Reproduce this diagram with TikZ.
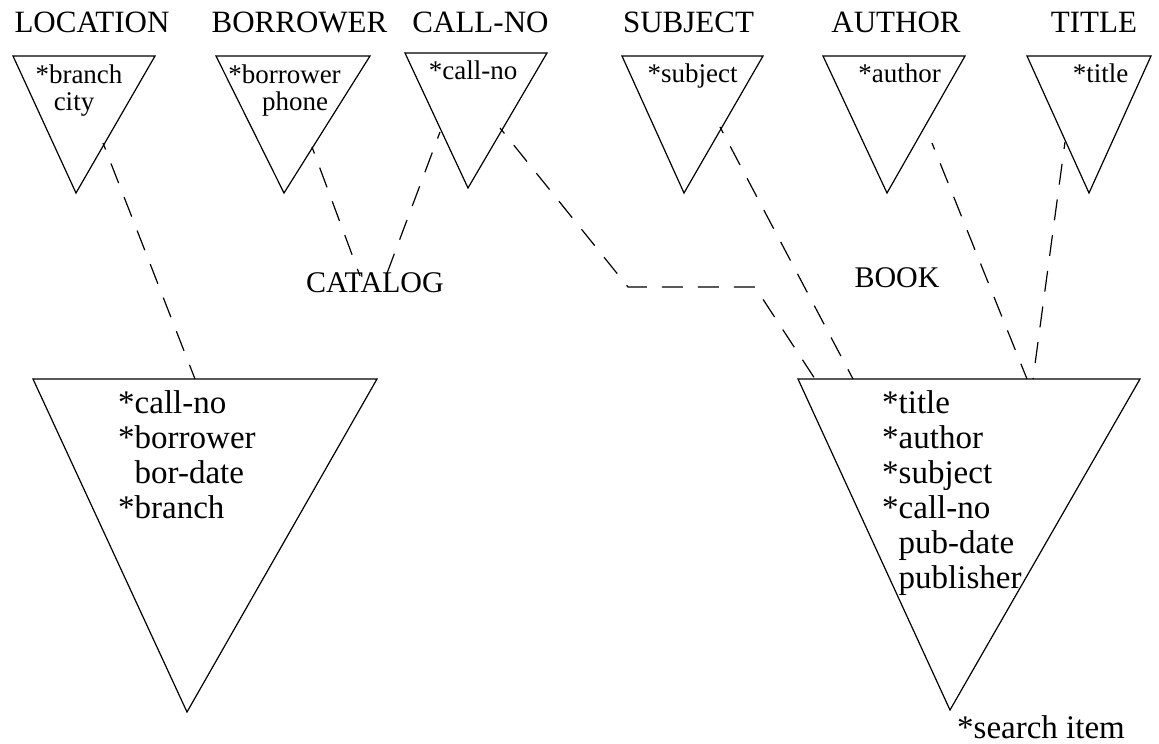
\documentclass[tikz,border=0pt]{standalone}
\usepackage{fontspec}
\setmainfont{Liberation Serif}
\begin{document}
\begin{tikzpicture}[x=1pt,y=-1pt,
  tri/.style={line width=1.2pt, line join=miter},
  link/.style={line width=1.2pt, dash pattern=on 21pt off 15pt, dash phase=14pt},
  relname/.style={font=\fontsize{31}{31}\selectfont, inner sep=0pt, anchor=base},
  idxkey/.style={font=\fontsize{27}{27}\selectfont, inner sep=0pt, anchor=base},
  attrlist/.style={font=\fontsize{33}{35}\selectfont, inner sep=0pt, anchor=base west}]
\useasboundingbox (0,0) rectangle (1159,744);

% ---- index triangles across the top ----
\coordinate (locA) at (13,56);   \coordinate (locB) at (155,56);  \coordinate (locC) at (76,193);
\coordinate (borA) at (216,56);  \coordinate (borB) at (370,56);  \coordinate (borC) at (284,193);
\coordinate (calA) at (405,53);  \coordinate (calB) at (547,53);  \coordinate (calC) at (468,188);
\coordinate (subA) at (622,56);  \coordinate (subB) at (763,56);  \coordinate (subC) at (684,193);
\coordinate (autA) at (823,56);  \coordinate (autB) at (965,56);  \coordinate (autC) at (887,193);
\coordinate (titA) at (1027,56); \coordinate (titB) at (1151,56); \coordinate (titC) at (1089,193);
\foreach \t in {loc,bor,cal,sub,aut,tit}
  \draw[tri] (\t A) -- (\t B) -- (\t C) -- cycle;

% ---- relation files ----
\coordinate (catA) at (33,379);  \coordinate (catB) at (377,379); \coordinate (catC) at (187,712);
\coordinate (bokA) at (798,379); \coordinate (bokB) at (1140,379); \coordinate (bokC) at (950,710);
\draw[tri] (catA) -- (catB) -- (catC) -- cycle;
\draw[tri] (bokA) -- (bokB) -- (bokC) -- cycle;

% ---- names above the index triangles ----
\node[relname] (nLoc) at (92,32)    {LOCATION};
\node[relname] (nBor) at (299.5,32) {BORROWER};
\node[relname] (nCal) at (480.5,32) {CALL-NO};
\node[relname] (nSub) at (688.5,32) {SUBJECT};
\node[relname] (nAut) at (896,32)   {AUTHOR};
\node[relname] (nTit) at (1094,32)  {TITLE};

% ---- keys inside the index triangles ----
\node[idxkey] (kLoc1) at (79,83)    {*branch};
\node[idxkey] (kLoc2) at (74,110)   {city};
\node[idxkey] (kBor1) at (284.5,83) {*borrower};
\node[idxkey] (kBor2) at (295,110)  {phone};
\node[idxkey] (kCal)  at (473,79)   {*call-no};
\node[idxkey] (kSub)  at (692.5,82) {*subject};
\node[idxkey] (kAut)  at (899.5,82) {*author};
\node[idxkey] (kTit)  at (1100.5,82){*title};

% ---- relation labels ----
\node[relname, font=\fontsize{30}{30}\selectfont] (catalog) at (375,292) {CATALOG};
\node[relname, font=\fontsize{30}{30}\selectfont] (book)    at (897,287) {BOOK};

% ---- attribute lists (key fields marked with *) ----
\node[attrlist] (catAttr) at (118,413)
  {\begin{tabular}[t]{@{}l@{}}{*}call-no\\{*}borrower\\\phantom{*}bor-date\\{*}branch\end{tabular}};
\node[attrlist] (bokAttr) at (882,413)
  {\begin{tabular}[t]{@{}l@{}}{*}title\\{*}author\\{*}subject\\{*}call-no\\\phantom{*}pub-date\\\phantom{*}publisher\end{tabular}};
\node[attrlist] (search) at (957,738) {*search item};

% ---- connector end points ----
\coordinate (locOut) at (103,143);
\coordinate (catInL) at (195,379);
\coordinate (borOut) at (312,147);
\coordinate (catTopL) at (360,276);
\coordinate (calOutL) at (440,132);
\coordinate (catTopR) at (386,276);
\coordinate (calOutR) at (500,128);
\coordinate (bend1) at (628,287);
\coordinate (bend2) at (755,287);
\coordinate (bokIn1) at (815,379);
\coordinate (subOut) at (720,127);
\coordinate (bokIn2) at (853,379);
\coordinate (autOut) at (932,143);
\coordinate (bokIn3) at (1027,379);
\coordinate (titOut) at (1065,142);
\coordinate (bokIn4) at (1033,379);

% ---- dashed connectors ----
\draw[link] (locOut) -- (catInL);
\draw[link] (borOut) -- (catTopL);
\draw[link] (calOutL) -- (catTopR);
\draw[link] (calOutR) -- (bend1) -- (bend2) -- (bokIn1);
\draw[link] (subOut) -- (bokIn2);
\draw[link] (autOut) -- (bokIn3);
\draw[link] (titOut) -- (bokIn4);
\end{tikzpicture}
\end{document}
